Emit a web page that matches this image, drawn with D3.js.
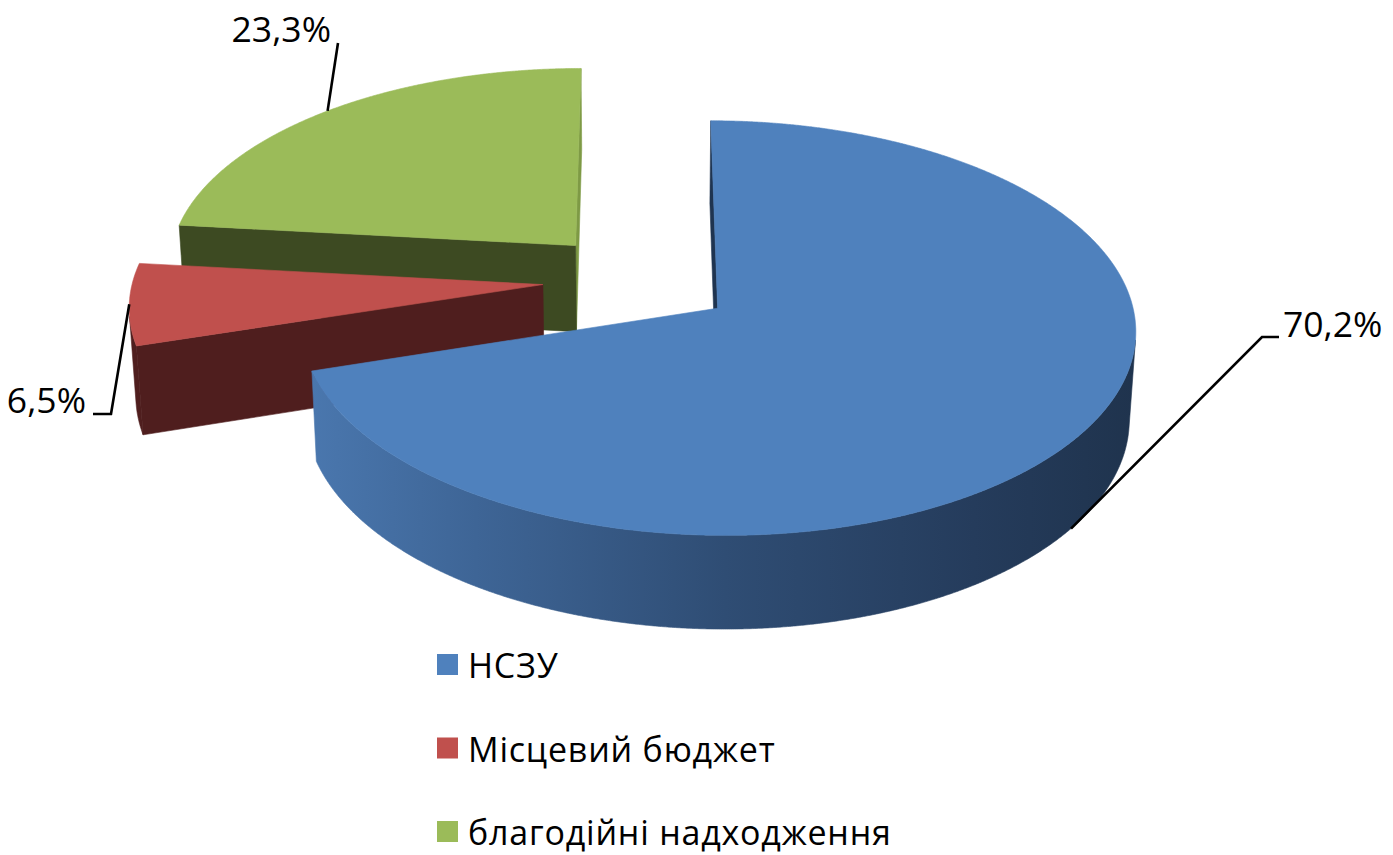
<!DOCTYPE html>
<html>
<head>
<meta charset="utf-8">
<script src="https://cdn.jsdelivr.net/npm/d3@7"></script>
<style>
  html, body { margin: 0; padding: 0; background: #ffffff; }
  svg { display: block; }
</style>
</head>
<body>
<svg id="chart" width="1393" height="855"></svg>
<script>
// Funding structure: shares by source, %
const categories = ["НСЗУ", "Місцевий бюджет", "благодійні надходження"];
const values = [70.2, 6.5, 23.3];
const topColors = ["#4F81BD", "#C0504D", "#9BBB59"];
const sideColors = ["#22374F", "#4F1E1E", "#3D4A22"];
const rimColors = ["#1F3450", "#4F1E1E", "#7E9A45"];   // walls seen almost edge-on

const svg = d3.select("#chart");
const FONT = "'Open Sans', 'Noto Sans', sans-serif";

// ---- 3D view of an exploded pie (perspective camera looking down) ----
const cx = 639, cy = 280;          // screen position of the pie centre
const R = 410;                      // pie radius
const thick = 101;                  // slab thickness
const explode = 0.235;              // radial offset of each slice, share of R
const tilt = 29.2 * Math.PI / 180;  // elevation of the camera
const camDist = 3790;               // camera distance
const cosT = Math.cos(tilt), sinT = Math.sin(tilt);
const cam = [0, -camDist * cosT, camDist * sinT];

// x: right, y: away from viewer, z: up
function depth(p) { return camDist + p[1] * cosT - p[2] * sinT; }
function project(p) {
  const s = camDist / depth(p);
  return [cx + p[0] * s, cy - (p[1] * sinT + p[2] * cosT) * s];
}
function facing(n, p) {
  return n[0] * (cam[0] - p[0]) + n[1] * (cam[1] - p[1]) + n[2] * (cam[2] - p[2]) > 0;
}

const arcs = d3.pie().sort(null).value(d => d)(values);
const step = Math.PI / 720;

const slices = arcs.map((a, i) => {
  const mid = (a.startAngle + a.endAngle) / 2;
  const ox = explode * R * Math.sin(mid), oy = explode * R * Math.cos(mid);
  const rim = (ang, z) => [ox + R * Math.sin(ang), oy + R * Math.cos(ang), z];
  const apex = z => [ox, oy, z];
  return { i, a, mid, ox, oy, rim, apex };
});

const line = d3.line();

// blue rim shading across the visible side
const defs = svg.append("defs");
const grad = defs.append("linearGradient")
  .attr("id", "sideBlue").attr("gradientUnits", "userSpaceOnUse")
  .attr("x1", 310).attr("x2", 1140).attr("y1", 0).attr("y2", 0);
[[0, "#4A77AE"], [0.2, "#3E6596"], [0.5, "#2F4D74"], [0.8, "#253C5C"], [1, "#1F334D"]]
  .forEach(([o, c]) => grad.append("stop").attr("offset", o).attr("stop-color", c));

const gPie = svg.append("g");

// draw far slices first
slices.slice().sort((p, q) => depth(q.apex(0)) - depth(p.apex(0))).forEach(sl => {
  const { a, rim, apex, i } = sl;
  const faces = [];

  // radial walls: the one at the start angle faces the viewer, the other is seen edge-on
  const s = a.startAngle, e = a.endAngle;
  const nS = [-Math.cos(s), Math.sin(s), 0];
  const nE = [Math.cos(e), -Math.sin(e), 0];
  if (facing(nS, apex(0))) {
    const pts = [apex(0), rim(s, 0), rim(s, -thick), apex(-thick)];
    faces.push({ pts, fill: i === 0 ? rimColors[i] : sideColors[i] });
  }
  if (facing(nE, apex(0))) {
    const pts = [apex(0), rim(e, 0), rim(e, -thick), apex(-thick)];
    faces.push({ pts, fill: rimColors[i] });
  }

  // outer curved wall, split into visible runs
  let run = [];
  const runs = [];
  for (let t = s; t <= e + 1e-9; t += step) {
    const ang = Math.min(t, e);
    const vis = facing([Math.sin(ang), Math.cos(ang), 0], rim(ang, 0));
    if (vis) run.push(ang); else if (run.length) { runs.push(run); run = []; }
  }
  if (run.length) runs.push(run);
  runs.forEach(r => {
    if (r.length < 2) return;
    const pts = r.map(t => rim(t, 0)).concat(r.slice().reverse().map(t => rim(t, -thick)));
    faces.push({ pts, fill: i === 0 ? "url(#sideBlue)" : sideColors[i] });
  });

  faces.sort((f1, f2) =>
    d3.mean(f2.pts, p => depth(p)) - d3.mean(f1.pts, p => depth(p)));

  faces.forEach(f => {
    gPie.append("path")
      .attr("d", line(f.pts.map(project)) + "Z")
      .attr("fill", f.fill)
      .attr("stroke", f.fill).attr("stroke-width", 0.6).attr("stroke-linejoin", "round");
  });

  // top face
  const top = [apex(0)];
  for (let t = s; t < e; t += step) top.push(rim(t, 0));
  top.push(rim(e, 0));
  gPie.append("path")
    .attr("d", line(top.map(project)) + "Z")
    .attr("fill", topColors[i])
    .attr("stroke", topColors[i]).attr("stroke-width", 0.6).attr("stroke-linejoin", "round");
});

// ---- data labels with leader lines ----
const fmt = v => d3.format(".1f")(v).replace(".", ",") + "%";
const labelLayout = [
  { x: 1283, y: 337, anchor: "start", zFrac: -1,  path: [[1262, 337], [1279, 337]] },
  { x: 86,   y: 413, anchor: "end",   zFrac: 0,   path: [[111, 414], [93, 414]] },
  { x: 331,  y: 42,  anchor: "end",   zFrac: 0,   path: [[338, 43]] }
];
const gLab = svg.append("g");
slices.forEach(sl => {
  const L = labelLayout[sl.i];
  const start = project(sl.rim(sl.mid, L.zFrac * thick));
  gLab.append("path")
    .attr("d", line([start].concat(L.path)))
    .attr("fill", "none").attr("stroke", "#000").attr("stroke-width", 2.6)
    .attr("stroke-linejoin", "miter");
  gLab.append("text")
    .attr("x", L.x).attr("y", L.y)
    .attr("text-anchor", L.anchor)
    .attr("font-family", FONT)
    .attr("font-size", 35.5)
    .attr("fill", "#000")
    .text(fmt(values[sl.i]));
});

// ---- legend ----
const legendY = d3.scalePoint().domain(categories).range([678, 845]);
const gLeg = svg.append("g");
categories.forEach((c, i) => {
  const y = legendY(c);
  gLeg.append("rect")
    .attr("x", 437).attr("y", y - 24).attr("width", 21).attr("height", 21)
    .attr("fill", topColors[i]);
  gLeg.append("text")
    .attr("x", 468).attr("y", y)
    .attr("font-family", FONT)
    .attr("font-size", 34)
    .attr("letter-spacing", 0.8)
    .attr("fill", "#000")
    .text(c);
});
</script>
</body>
</html>
